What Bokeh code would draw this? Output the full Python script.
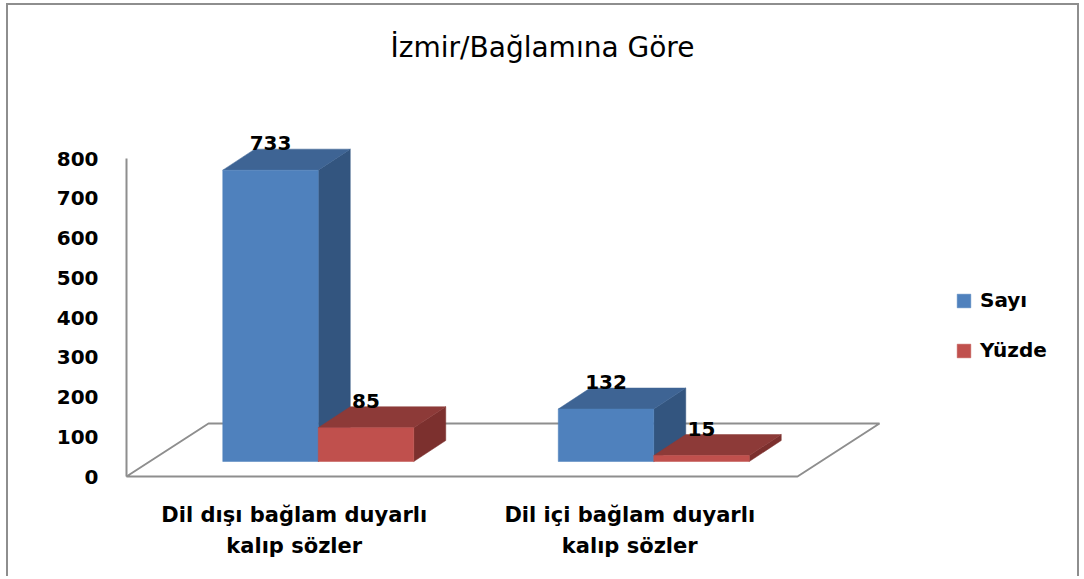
from bokeh.plotting import figure
from bokeh.models import Range1d, FixedTicker, Legend, LegendItem, Label, ColumnDataSource
from bokeh.embed import file_html
from bokeh.resources import INLINE
from bokeh.core.properties import value

# ---------------- data ----------------
TITLE = "İzmir/Bağlamına Göre"
categories = ["Dil dışı bağlam duyarlı\nkalıp sözler", "Dil içi bağlam duyarlı\nkalıp sözler"]
series_names = ["Sayı", "Yüzde"]
sayi = [733, 132]
yuzde = [85, 15]
y_ticks = [0, 100, 200, 300, 400, 500, 600, 700, 800]

# ---------------- style / geometry ----------------
front_colors = ["#4F81BD", "#C0504D"]
top_colors = ["#3E6494", "#8D3A38"]
side_colors = ["#33557F", "#7C302E"]
LINE_GRAY = "#8E8E8E"
FONT = value("DejaVu Sans")

PX_X = 335.5    # pixels per category slot
PX_Y = 0.3975   # pixels per value unit
FLOOR_DX, FLOOR_DY = 82, 53      # floor depth (px)
BAR_SHIFT_X, BAR_SHIFT_Y = 24, 15  # bars sit mid-depth (px)
BAR_DX, BAR_DY = 32, 21          # bar depth (px)
BAR_W = 95.5                     # bar width (px)
LABEL_GAP = 27                   # value label above bar top (px)

def ux(px):
    return px / PX_X

def uy(px):
    return px / PX_Y

W, H = 1073, 573
CANVAS_X0, CANVAS_Y0 = 8, 5
FRAME_LEFT_PAGE, FRAME_BOTTOM_PAGE = 108, 490
ORIGIN_X_PAGE, ORIGIN_Y_PAGE = 126, 476

x_start = (FRAME_LEFT_PAGE - ORIGIN_X_PAGE) / PX_X
x_end = (CANVAS_X0 + W - ORIGIN_X_PAGE) / PX_X
y_start = -(FRAME_BOTTOM_PAGE - ORIGIN_Y_PAGE) / PX_Y
y_end = (ORIGIN_Y_PAGE - CANVAS_Y0) / PX_Y

p = figure(width=W, height=H, x_range=Range1d(x_start, x_end), y_range=Range1d(y_start, y_end),
           output_backend="svg", toolbar_location=None,
           min_border_left=FRAME_LEFT_PAGE - CANVAS_X0, min_border_right=0, min_border_top=0,
           min_border_bottom=CANVAS_Y0 + H - FRAME_BOTTOM_PAGE,
           outline_line_color=None, background_fill_color="white", border_fill_color="white")
p.styles = {"margin-left": "6px", "margin-top": "3px",
            "border-left": "2px solid #8E8E8E", "border-top": "2px solid #8E8E8E",
            "border-right": "2px solid #8E8E8E"}
p.xgrid.visible = False
p.ygrid.visible = False

n = len(categories)

# floor
p.patch([0, ux(FLOOR_DX), n + ux(FLOOR_DX), n], [0, uy(FLOOR_DY), uy(FLOOR_DY), 0],
        fill_color="white", line_color=LINE_GRAY, line_width=2)
# vertical value axis line
p.segment(x0=[0], y0=[0], x1=[0], y1=[y_ticks[-1]], line_color=LINE_GRAY, line_width=2)

series = [sayi, yuzde]
front_renderers = []
lbl_x, lbl_y, lbl_t = [], [], []
bottom = uy(BAR_SHIFT_Y)
ddx, ddy = ux(BAR_DX), uy(BAR_DY)
for j, vals in enumerate(series):
    sx, sy, tx, ty = [], [], [], []
    lefts, rights, tops = [], [], []
    for i, v in enumerate(vals):
        c = i + 0.5 + ux(BAR_SHIFT_X)
        x0 = c - ux(BAR_W) + j * ux(BAR_W)
        x1 = x0 + ux(BAR_W)
        t = bottom + v
        sx.append([x1, x1 + ddx, x1 + ddx, x1])
        sy.append([bottom, bottom + ddy, t + ddy, t])
        tx.append([x0, x0 + ddx, x1 + ddx, x1])
        ty.append([t, t + ddy, t + ddy, t])
        lefts.append(x0); rights.append(x1); tops.append(t)
        lbl_x.append((x0 + x1) / 2)
        lbl_y.append(t + uy(LABEL_GAP))
        lbl_t.append(str(v))
    p.patches(sx, sy, fill_color=side_colors[j], line_color=side_colors[j], line_width=0.5)
    p.patches(tx, ty, fill_color=top_colors[j], line_color=top_colors[j], line_width=0.5)
    r = p.quad(left=lefts, right=rights, bottom=[bottom] * len(vals), top=tops,
               fill_color=front_colors[j], line_color=front_colors[j], line_width=0.5)
    front_renderers.append(r)

p.text(x="x", y="y", text="t", source=ColumnDataSource(dict(x=lbl_x, y=lbl_y, t=lbl_t)),
       text_font=FONT, text_font_style="bold", text_font_size="20px",
       text_align="center", text_baseline="middle", text_color="black")

# title
p.add_layout(Label(x=(542 - ORIGIN_X_PAGE) / PX_X, y=(ORIGIN_Y_PAGE - 47) / PX_Y, text=TITLE,
                   text_align="center", text_baseline="middle", text_font="DejaVu Sans",
                   text_font_size="28px", text_color="black"))

# axes
p.yaxis.ticker = FixedTicker(ticks=y_ticks)
p.yaxis.axis_line_color = None
p.yaxis.major_tick_line_color = None
p.yaxis.minor_tick_line_color = None
p.yaxis.major_tick_out = 0
p.yaxis.major_label_standoff = 10
p.yaxis.major_label_text_font = "DejaVu Sans"
p.yaxis.major_label_text_font_style = "bold"
p.yaxis.major_label_text_font_size = "20px"
p.yaxis.major_label_text_color = "black"

p.xaxis.ticker = FixedTicker(ticks=[i + 0.5 for i in range(n)])
p.xaxis.major_label_overrides = {i + 0.5: categories[i] for i in range(n)}
p.xaxis.axis_line_color = None
p.xaxis.major_tick_line_color = None
p.xaxis.minor_tick_line_color = None
p.xaxis.major_tick_out = 0
p.xaxis.major_label_standoff = 12
p.xaxis.major_label_text_font = "DejaVu Sans"
p.xaxis.major_label_text_font_style = "bold"
p.xaxis.major_label_text_font_size = "21px"
p.xaxis.major_label_text_color = "black"
p.xaxis.major_label_text_line_height = 1.3

# legend
legend = Legend(items=[LegendItem(label=series_names[k], renderers=[front_renderers[k]]) for k in range(2)],
                location=(955 - FRAME_LEFT_PAGE, FRAME_BOTTOM_PAGE - 362),
                padding=0, margin=0, spacing=26, glyph_width=17, glyph_height=17,
                label_height=20, label_standoff=8, border_line_color=None,
                background_fill_alpha=0, label_text_font="DejaVu Sans",
                label_text_font_style="bold", label_text_font_size="20px",
                label_text_color="black")
p.add_layout(legend)

open("out.html", "w").write(file_html(p, INLINE))
